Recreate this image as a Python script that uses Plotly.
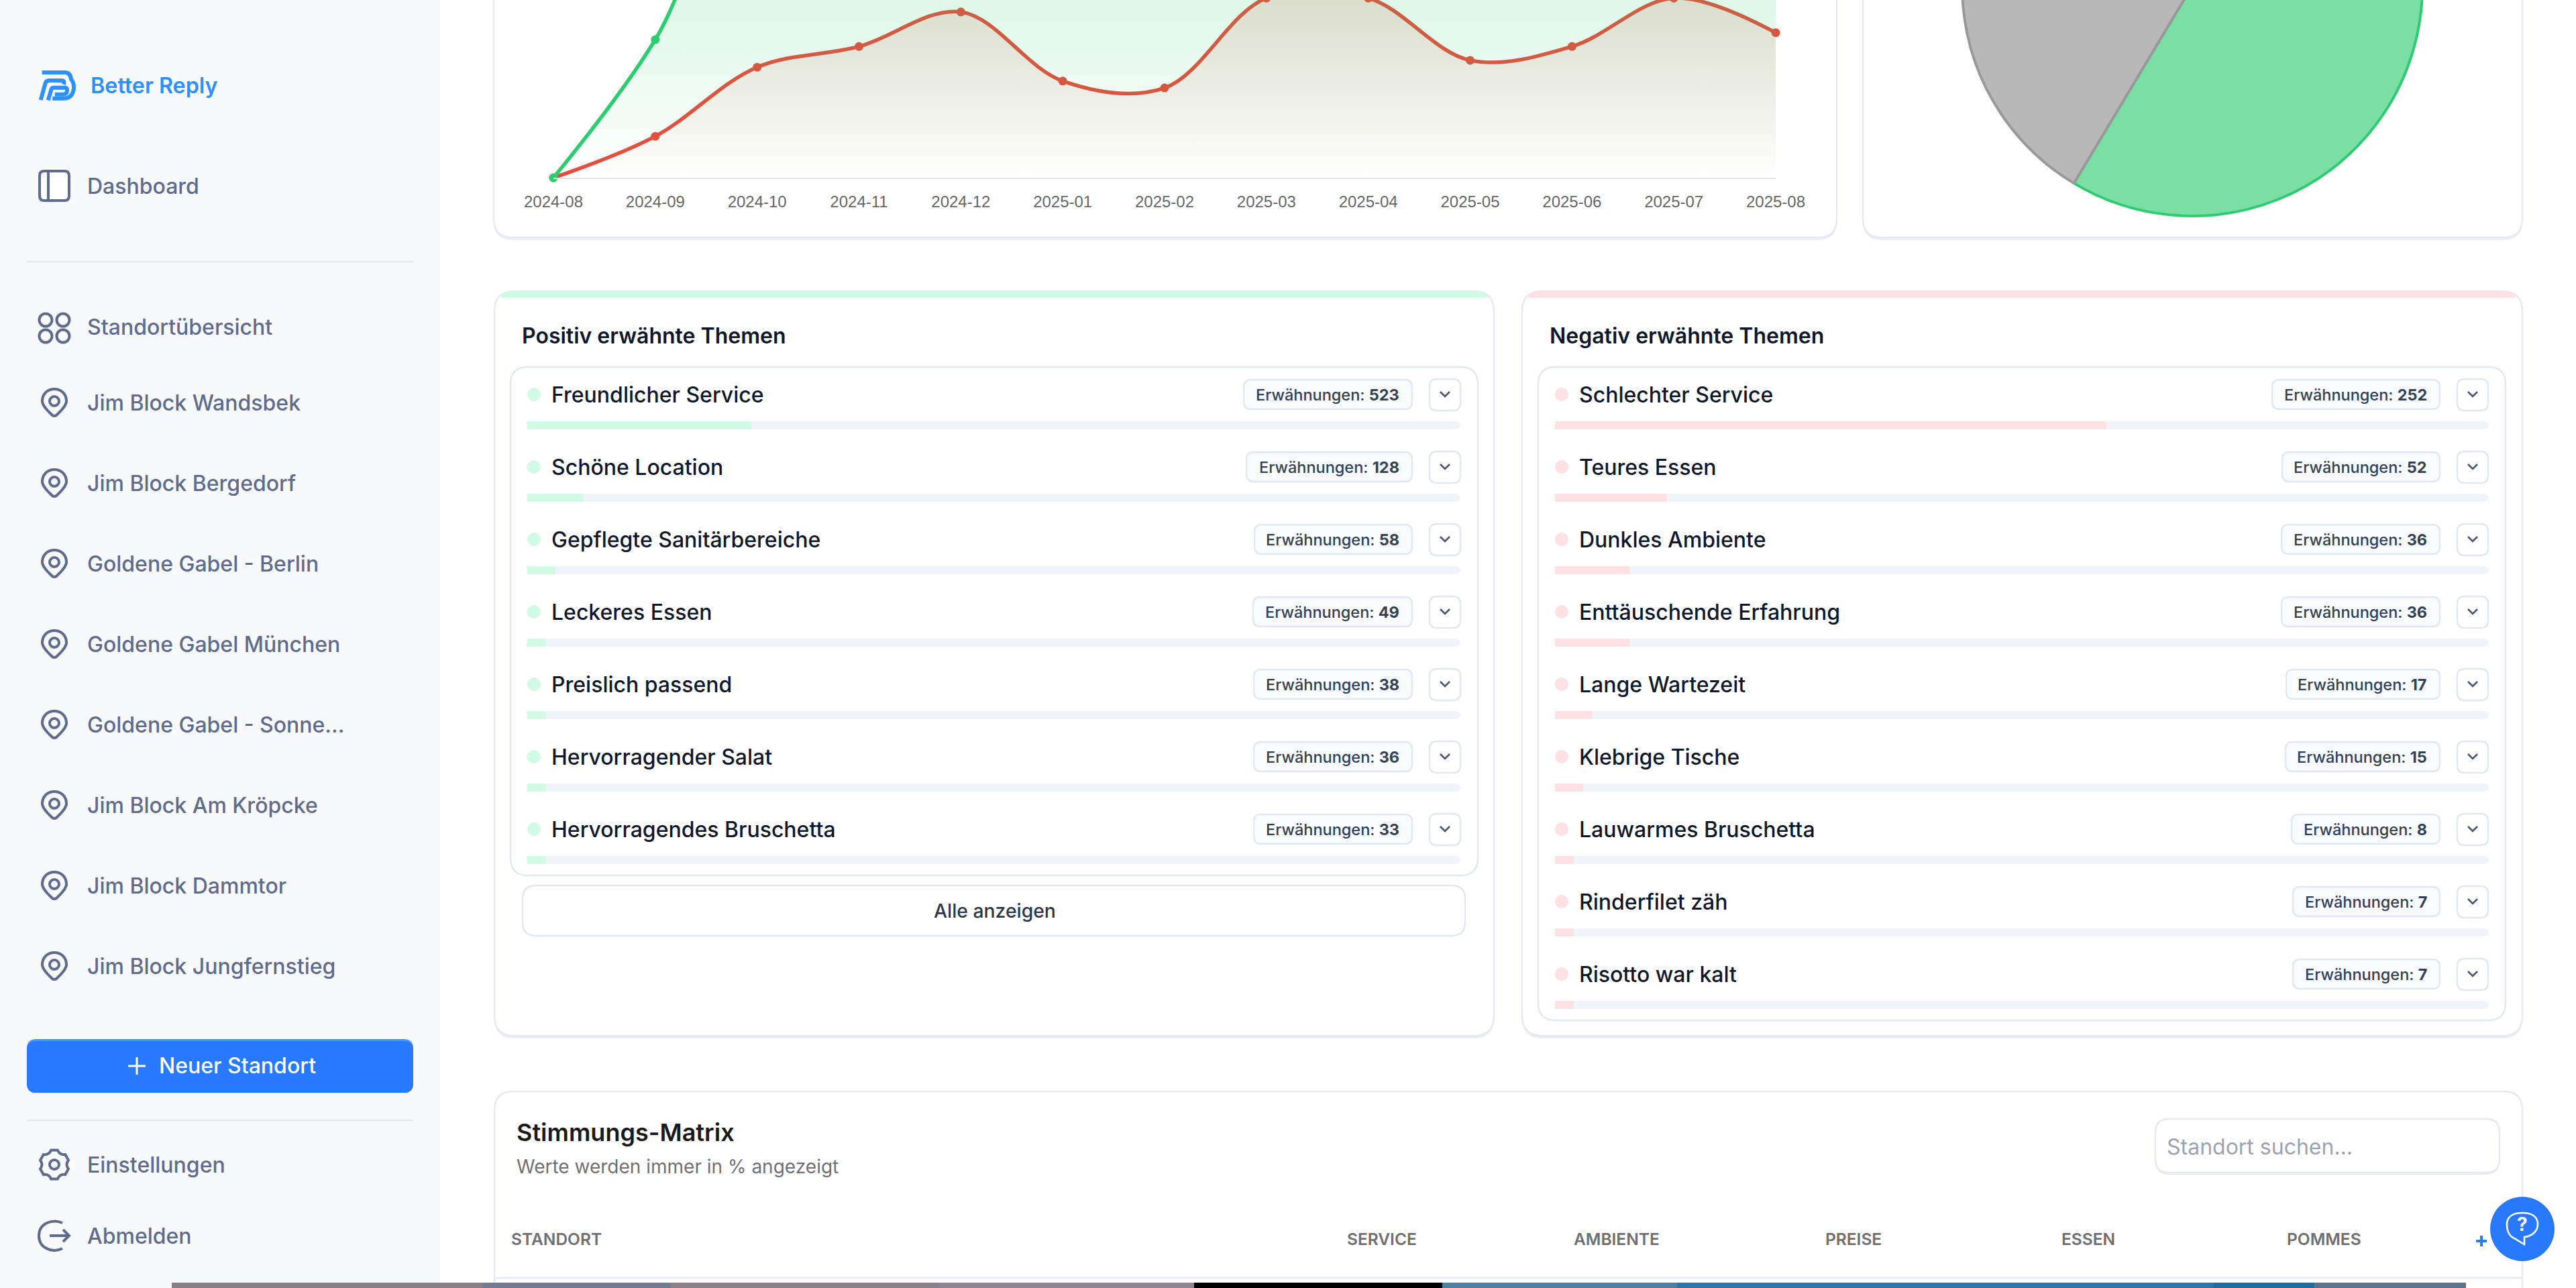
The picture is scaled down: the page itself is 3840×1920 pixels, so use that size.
#!/usr/bin/env python3
"""Better Reply dashboard: mentions over time, sentiment pie and topic lists."""

import math
import plotly.graph_objects as go

# Line chart: mentions per month
months = ['2024-08', '2024-09', '2024-10', '2024-11', '2024-12', '2025-01', '2025-02',
          '2025-03', '2025-04', '2025-05', '2025-06', '2025-07', '2025-08']
positive_mentions = [0, 20, 50, 52, 60, 47, 44, 62, 64, 52, 49, 60, 56]  # from 2024-10 on above the crop
negative_mentions = [0, 6, 16, 19, 24, 14, 13, 26, 26, 17, 19, 26, 21]

# Pie chart (top of it is cut off in the picture)
pie_labels = ['Positiv', 'Neutral', 'Negativ']
pie_values = [58.6, 30, 11.4]

# Topic lists
positive_topics = ['Freundlicher Service', 'Schöne Location', 'Gepflegte Sanitärbereiche', 'Leckeres Essen',
                   'Preislich passend', 'Hervorragender Salat', 'Hervorragendes Bruschetta']
positive_counts = [523, 128, 58, 49, 38, 36, 33]
positive_share = [24, 6, 3, 2, 2, 2, 2]

negative_topics = ['Schlechter Service', 'Teures Essen', 'Dunkles Ambiente', 'Enttäuschende Erfahrung',
                   'Lange Wartezeit', 'Klebrige Tische', 'Lauwarmes Bruschetta', 'Rinderfilet zäh',
                   'Risotto war kalt']
negative_counts = [252, 52, 36, 36, 17, 15, 8, 7, 7]
negative_share = [59, 12, 8, 8, 4, 3, 2, 2, 2]

# Sidebar
locations = ['Jim Block Wandsbek', 'Jim Block Bergedorf', 'Goldene Gabel - Berlin', 'Goldene Gabel München',
             'Goldene Gabel - Sonne...', 'Jim Block Am Kröpcke', 'Jim Block Dammtor', 'Jim Block Jungfernstieg']

# Matrix header
matrix_columns = ['SERVICE', 'AMBIENTE', 'PREISE', 'ESSEN', 'POMMES']

# The page is scrolled: figure is taller than the window and shifted up by this much
SCROLL = 400
WIDTH = 3840
HEIGHT = 1920 + SCROLL

FONT = 'Inter'
DARK = '#0F172A'
NAV = '#5F6B8C'
BLUE = '#2979FF'
EDGE = '#E2E8F0'


def paper_y(y):
    """Screen pixel row to paper fraction"""
    return 1 - (y + SCROLL) / HEIGHT


fig = go.Figure()


def rounded(x0, y0, x1, y1, r):
    return (f'M {x0 + r},{y0} L {x1 - r},{y0} Q {x1},{y0} {x1},{y0 + r} L {x1},{y1 - r} Q {x1},{y1} {x1 - r},{y1} '
            f'L {x0 + r},{y1} Q {x0},{y1} {x0},{y1 - r} L {x0},{y0 + r} Q {x0},{y0} {x0 + r},{y0} Z')


def shape(path, fill='rgba(0,0,0,0)', line=None, width=0):
    fig.add_shape(type='path', path=path, xref='x', yref='y', layer='below', fillcolor=fill,
                  line=dict(color=line or 'rgba(0,0,0,0)', width=width))


def box(x0, y0, x1, y1, r, fill='white', line=None, width=0):
    shape(rounded(x0, y0, x1, y1, r), fill, line, width)


def card(x0, y0, x1, y1, r=28):
    box(x0, y0 + 3, x1, y1 + 4, r, '#ECEEF5')
    box(x0, y0, x1, y1, r, 'white', '#E7E9F1', 2.4)


def circle(cx, cy, r, fill='rgba(0,0,0,0)', line=None, width=0):
    fig.add_shape(type='circle', x0=cx - r, x1=cx + r, y0=cy - r, y1=cy + r, xref='x', yref='y', layer='below',
                  fillcolor=fill, line=dict(color=line or 'rgba(0,0,0,0)', width=width))


def label(x, y, s, size, color, weight=400, anchor='left', family=FONT):
    # annotations carry a little padding of their own on the left
    fig.add_annotation(x=x - 2 if anchor == 'left' else x, y=y, text=s, xref='x', yref='y', showarrow=False,
                       xanchor=anchor, yanchor='middle',
                       font=dict(family=family, size=size, color=color, weight=weight))


def pin_icon(cy, cx=81):
    shape(f'M {cx - 18},{cy - 2} C {cx - 18},{cy - 14} {cx - 9},{cy - 20} {cx},{cy - 20} '
          f'C {cx + 9},{cy - 20} {cx + 18},{cy - 14} {cx + 18},{cy - 2} '
          f'C {cx + 18},{cy + 6} {cx + 7},{cy + 15} {cx + 3},{cy + 19} Q {cx},{cy + 21} {cx - 3},{cy + 19} '
          f'C {cx - 7},{cy + 15} {cx - 18},{cy + 6} {cx - 18},{cy - 2} Z', line=NAV, width=4)
    circle(cx, cy - 2, 7, line=NAV, width=4)


def gear_icon(cx, cy):
    def pt(r, deg):
        a = math.radians(deg)
        return f'{cx + r * math.sin(a):.1f},{cy - r * math.cos(a):.1f}'
    d = f'M {pt(22, -13)} '
    for i in range(6):
        t = i * 60
        d += f'L {pt(22, t + 13)} Q {pt(16, t + 30)} {pt(22, t + 47)} '
    shape(d + 'Z', line=NAV, width=4)
    circle(cx, cy, 7, line=NAV, width=4)


def draw_sidebar():
    box(-10, -SCROLL, 656, 1930, 0, '#F7F9FB')

    # logo
    logo = '#2E90FF'
    shape('M 62.7,108 L 96.7,108 Q 105,108 106,118.3 Q 110.7,123.3 110,131.7 Q 108.3,146.7 95,146.7 L 78.3,146.7',
          line=logo, width=6)
    shape('M 60.7,149 L 67.3,125 Q 68.3,120 73.3,120 L 91.7,120 Q 97,120 95,126', line=logo, width=6)
    shape('M 71.7,149.3 L 76.7,132.7 Q 77.3,130.7 80,130.7 L 97.3,130.7 Q 101.7,131.7 99.3,138.3 '
          'Q 97.3,140.7 93.3,140.7 L 81.7,140.7', line=logo, width=6)
    label(135, 127, 'Better Reply', 32.3, '#2E90FF', 600)

    box(59, 255, 103, 299, 7, line=NAV, width=4)
    shape('M 72,255 L 72,299', line=NAV, width=4)
    label(130, 277, 'Dashboard', 32, NAV, 500)

    shape('M 40,390 L 616,390', line='#E6E8EC', width=2.4)

    for cx, cy in [(68, 477), (94, 477), (68, 501), (94, 501)]:
        circle(cx, cy, 9.5, line=NAV, width=4)
    label(130, 487, 'Standortübersicht', 32, NAV, 500)

    for i, name in enumerate(locations):
        pin_icon(600 + 120 * i)
        label(130, 600 + 120 * i, name, 32, NAV, 500)

    box(40, 1549, 616, 1629, 14, '#4D90FF')
    box(40, 1552, 616, 1629, 14, BLUE)
    shape('M 191,1589 L 217,1589 M 204,1576 L 204,1602', line='white', width=3)
    label(237, 1588, 'Neuer Standort', 32, 'white', 500)

    shape('M 40,1670 L 616,1670', line='#E6E8EC', width=2.4)

    gear_icon(81, 1736)
    label(130, 1736, 'Einstellungen', 32, NAV, 500)

    shape('M 93,1823 C 80,1817 58,1822 58,1842 C 58,1862 80,1868 93,1861', line=NAV, width=4)
    shape('M 74,1842 L 103,1842 M 94,1833 L 103,1842 L 94,1851', line=NAV, width=4)
    label(130, 1842, 'Abmelden', 32, NAV, 500)


def draw_topic_card(card_x0, card_x1, inner_x0, inner_x1, inner_y1, title, topics, counts, accent, badge_left):
    """Card frame, title, rows and badges; the progress bars are real bar traces"""
    card(card_x0, 434, card_x1, 1544, 30)
    shape(f'M {card_x0 + 9},444 Q {card_x0 + 12},434 {card_x0 + 28},434 L {card_x1 - 28},434 '
          f'Q {card_x1 - 12},434 {card_x1 - 9},444 Z', accent)
    label(inner_x0 + 17, 500, title, 32, DARK, 600)
    box(inner_x0, 547, inner_x1, inner_y1, 26, 'white', EDGE, 2.4)

    for i, (topic, count) in enumerate(zip(topics, counts)):
        y = 588 + 108 * i
        circle(inner_x0 + 35, y, 10, accent)
        label(inner_x0 + 61, y, topic, 32, DARK, 500)
        badge_right = inner_x1 - 98
        box(badge_left[i], y - 22, badge_right, y + 22, 11, '#F8FAFC', EDGE, 2.4)
        label(badge_right - 17, y, f'Erwähnungen: <b>{count}</b>', 23.5, '#334155', 500, 'right')
        box(inner_x1 - 72, y - 23, inner_x1 - 26, y + 24, 11, 'white', EDGE, 2.4)
        cx = inner_x1 - 49
        shape(f'M {cx - 7},{y - 4} L {cx},{y + 3} L {cx + 7},{y - 4}', line='#475569', width=2.6)


draw_sidebar()

# top cards, cut by the top of the window
card(736, -60, 2738, 354)
card(2777, -60, 3760, 354)

draw_topic_card(737, 2227, 761, 2203, 1305, 'Positiv erwähnte Themen', positive_topics, positive_counts,
                '#D1FAE5', [1854, 1858, 1870, 1868, 1869, 1869, 1869])
box(779, 1320, 2184, 1395, 20, 'white', EDGE, 2.4)
label(1483, 1358, 'Alle anzeigen', 28.3, '#2D3748', 500, 'center')

draw_topic_card(2269, 3760, 2293, 3735, 1521, 'Negativ erwähnte Themen', negative_topics, negative_counts,
                '#FFE1E4', [3387, 3402, 3401, 3401, 3408, 3407, 3416, 3418, 3418])

# Matrix card
card(737, 1627, 3760, 2000, 28)
label(770, 1688, 'Stimmungs-Matrix', 36, '#1A1A1A', 600)
label(770, 1739, 'Werte werden immer in % angezeigt', 28, '#707070', 400)
box(3213, 1668, 3726, 1751, 20, '#E9EAF2')
box(3213, 1668, 3726, 1748, 20, 'white', '#E7E9F1', 2.4)
label(3230, 1709, 'Standort suchen...', 32, '#9CA3AF', 400)
label(762, 1847, 'STANDORT', 24.5, '#6F6F6F', 600)
for name, cx in zip(matrix_columns, [2060, 2410, 2763, 3113, 3464]):
    label(cx, 1847, name, 24.5, '#6F6F6F', 600, 'center')
shape('M 3691,1850 L 3707,1850 M 3699,1842 L 3699,1858', line='#2E7BEB', width=4)
shape('M 737,1905 L 3760,1905', line='#E7E9F1', width=2.4)

# Help button
circle(3760, 1832, 48, BLUE)
shape('M 3737,1825 C 3737,1813 3747,1808 3760,1808 C 3773,1808 3783,1813 3783,1825 C 3783,1837 3772,1843 3763,1844 '
      'L 3763,1855 L 3748,1846 C 3741,1843 3737,1835 3737,1825 Z', line='white', width=2.6)
label(3760, 1825, '?', 28, 'white', 700, 'center')

# Video strip along the bottom of the window
for x0, x1, color in [(256, 720, '#8A8088'), (720, 1000, '#737C8A'), (1000, 1400, '#8C8089'), (1400, 1780, '#8F8690'),
                      (1780, 2150, '#000000'), (2150, 2500, '#4C7E9F'), (2500, 3300, '#2E76A5'),
                      (3300, 3450, '#1F6B9A'), (3450, 3676, '#5D7288')]:
    box(x0, 1912, x1, 1930, 0, color)

# Line chart: red goes first, so the green fill tints it as in the original
fig.add_trace(go.Scatter(
    x=months, y=negative_mentions, mode='lines+markers', xaxis='x2', yaxis='y2', cliponaxis=False,
    line=dict(color='#E74C3C', width=5.5, shape='spline'), marker=dict(size=13, color='#E74C3C'), fill='tozeroy',
    fillgradient=dict(type='vertical', start=0, stop=25.7,
                      colorscale=[[0, 'rgba(231,76,60,0)'], [1, 'rgba(231,76,60,0.17)']])))
fig.add_trace(go.Scatter(
    x=months, y=positive_mentions, mode='lines+markers', xaxis='x2', yaxis='y2', cliponaxis=False,
    line=dict(color='#2ECC71', width=5.5, shape='spline'), marker=dict(size=13, color='#2ECC71'), fill='tozeroy',
    fillgradient=dict(type='vertical', start=0, stop=25.7,
                      colorscale=[[0, 'rgba(46,204,113,0)'], [1, 'rgba(46,204,113,0.16)']])))

# Pie: centre and radius sit partly above the window
fig.add_trace(go.Pie(
    labels=pie_labels, values=pie_values, sort=False, direction='clockwise', rotation=0, textinfo='none',
    domain=dict(x=[(3268 - 343) / WIDTH, (3268 + 343) / WIDTH], y=[paper_y(-21 + 343), paper_y(-21 - 343)]),
    marker=dict(colors=['rgba(46,204,113,0.63)', '#B8B8B8', 'rgba(231,76,60,0.6)'],
                line=dict(color=['#2ECC71', '#999999', '#E74C3C'], width=4))))

# Progress bars: track, then the share with a rounded left end and a square right end
for topics, share, color, xa, ya in [(positive_topics, positive_share, '#D1FAE5', 'x3', 'y3'),
                                     (negative_topics, negative_share, '#FFE1E4', 'x4', 'y4')]:
    fig.add_trace(go.Bar(y=topics, x=[100] * len(topics), orientation='h', xaxis=xa, yaxis=ya, width=12 / 108,
                         marker=dict(color='#F1F5F9', line_width=0, cornerradius=6)))
    fig.add_trace(go.Bar(y=topics, x=share, orientation='h', xaxis=xa, yaxis=ya, width=12 / 108,
                         marker=dict(color=color, line_width=0, cornerradius=6)))
    fig.add_trace(go.Bar(y=topics, x=[s - 1 for s in share], base=1, orientation='h', xaxis=xa, yaxis=ya,
                         width=12 / 108, marker=dict(color=color, line_width=0)))

hidden = dict(visible=False, fixedrange=True)
fig.update_layout(
    width=WIDTH, height=HEIGHT, margin=dict(l=0, r=0, t=0, b=0, pad=0, autoexpand=False), showlegend=False,
    paper_bgcolor='white', plot_bgcolor='rgba(0,0,0,0)', barmode='overlay',
    # screen pixels, for everything that is page furniture
    xaxis=dict(range=[0, WIDTH], domain=[0, 1], anchor='y', **hidden),
    yaxis=dict(range=[1920, -SCROLL], domain=[0, 1], anchor='x', **hidden),
    xaxis2=dict(type='category', range=[0, 12], domain=[825 / WIDTH, 2647 / WIDTH], anchor='y2', fixedrange=True,
                showgrid=False, zeroline=False, showline=True, linecolor='#E4E4E4', linewidth=2.4,
                ticks='outside', ticklen=13, tickcolor='rgba(0,0,0,0)', tickangle=0,
                tickfont=dict(family='Liberation Sans', size=24, color='#666666')),
    yaxis2=dict(range=[0, (265 + SCROLL) / 10.3], domain=[paper_y(265), 1], anchor='x2', visible=False,
                fixedrange=True),
    xaxis3=dict(range=[0, 100], domain=[786 / WIDTH, 2177 / WIDTH], anchor='y3', **hidden),
    yaxis3=dict(type='category', range=[6.5, -0.5], domain=[paper_y(580 + 756), paper_y(580)], anchor='x3', **hidden),
    xaxis4=dict(range=[0, 100], domain=[2318 / WIDTH, 3710 / WIDTH], anchor='y4', **hidden),
    yaxis4=dict(type='category', range=[8.5, -0.5], domain=[paper_y(580 + 972), paper_y(580)], anchor='x4', **hidden),
)

fig.write_html('out.html', post_script=(
    "document.body.style.margin='0';document.body.style.overflow='hidden';"
    f"document.getElementById('{{plot_id}}').style.marginTop='-{SCROLL}px';"))
